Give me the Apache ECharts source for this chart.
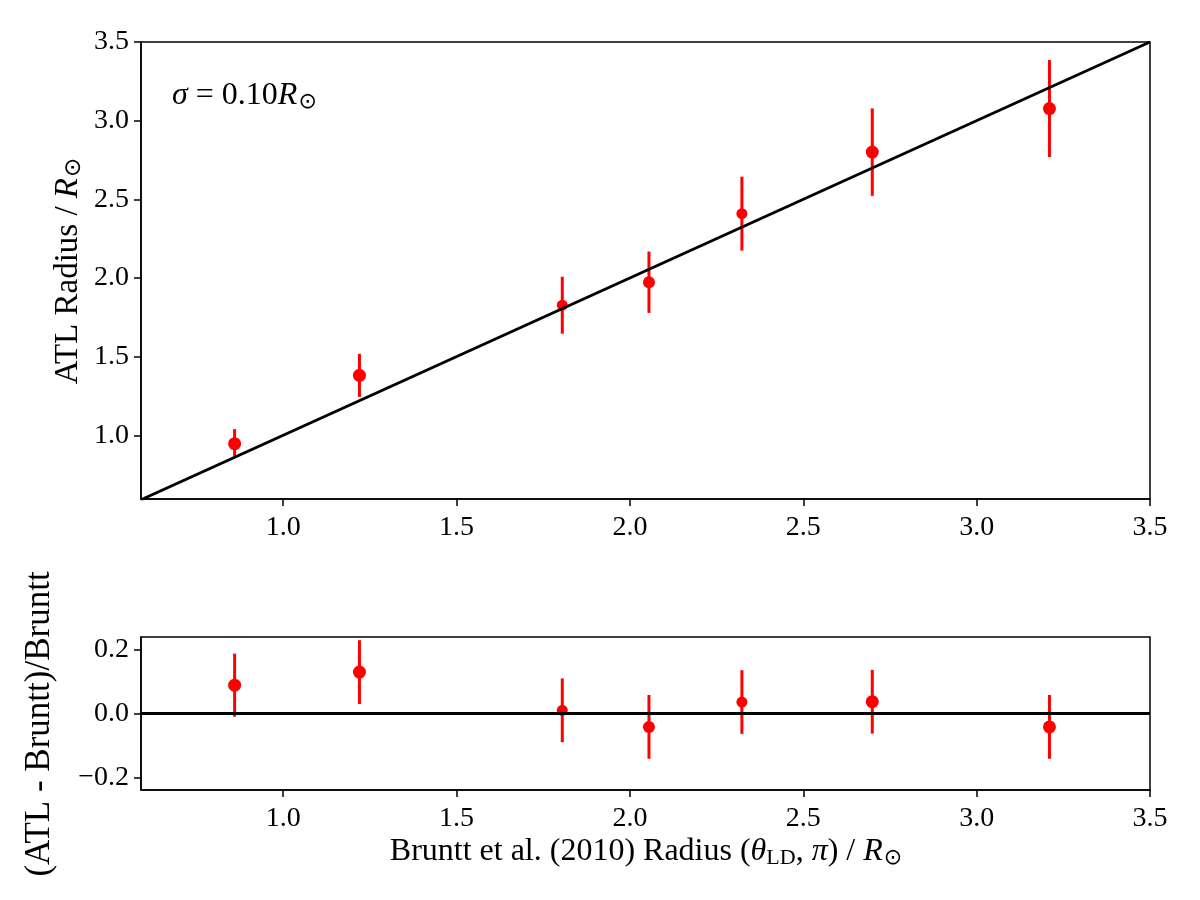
<!DOCTYPE html>
<html><head><meta charset="utf-8">
<script src="https://cdn.jsdelivr.net/npm/echarts@6/dist/echarts.min.js"></script>
<style>html,body{margin:0;padding:0;background:#fff}#c{width:1200px;height:900px}</style>
</head><body><div id="c"></div>
<script>
// ---- data ----
const brunttRadius = [0.860, 1.220, 1.805, 2.055, 2.323, 2.699, 3.210];
const atlRadius    = [0.947, 1.381, 1.827, 1.973, 2.409, 2.800, 3.077];
const atlErr       = [0.092, 0.137, 0.181, 0.195, 0.235, 0.278, 0.308];
const fracDiff     = [0.089, 0.130, 0.010, -0.042, 0.036, 0.037, -0.042];
const fracErr      = [0.099, 0.100, 0.100, 0.100, 0.100, 0.100, 0.100];
const markerSize   = [13, 13, 11, 12, 11, 13, 13];
const xTicks    = [1.0, 1.5, 2.0, 2.5, 3.0, 3.5];
const yTopTicks = [1.0, 1.5, 2.0, 2.5, 3.0, 3.5];
const yBotTicks = [-0.2, 0.0, 0.2];
const xRange    = [0.59, 3.5];
const yTopRange = [0.595, 3.5];
const yBotRange = [-0.24, 0.24];
const zeroLine  = [0.0];

const FONT = 'Liberation Serif';
const FS = 28;
const RED = '#ff0000';
const fmt = v => (Math.abs(v) < 1e-9 ? 0 : v).toFixed(1).replace('-', '\u2212');

function xAxisDef(gi) {
  return {
    type: 'value', gridIndex: gi, min: xRange[0], max: xRange[1],
    axisLine: {show: true, onZero: false, lineStyle: {color: '#000', width: 1.5}},
    axisTick: {show: true, length: 7, lineStyle: {color: '#000', width: 1.5}, customValues: xTicks},
    axisLabel: {show: true, customValues: xTicks, formatter: fmt, margin: 15,
      fontFamily: FONT, fontSize: FS, color: '#000', hideOverlap: false},
    splitLine: {show: false}
  };
}
function yAxisDef(gi, range, ticks) {
  return {
    type: 'value', gridIndex: gi, min: range[0], max: range[1],
    axisLine: {show: true, onZero: false, lineStyle: {color: '#000', width: 1.5}},
    axisTick: {show: true, length: 7, lineStyle: {color: '#000', width: 1.5}, customValues: ticks},
    axisLabel: {show: true, customValues: ticks, formatter: fmt, margin: 12,
      fontFamily: FONT, fontSize: FS, color: '#000', hideOverlap: false},
    splitLine: {show: false}
  };
}
function errSeries(gi, xs, ys, es) {
  return {
    type: 'custom', xAxisIndex: gi, yAxisIndex: gi, z: 3,
    data: xs.map((x, i) => [x, ys[i] - es[i], ys[i] + es[i]]),
    encode: {x: 0, y: [1, 2]},
    renderItem: (params, api) => {
      const a = api.coord([api.value(0), api.value(1)]);
      const b = api.coord([api.value(0), api.value(2)]);
      return {type: 'line', shape: {x1: a[0], y1: a[1], x2: b[0], y2: b[1]},
        style: {stroke: RED, lineWidth: 3}};
    },
    silent: true
  };
}
function ptSeries(gi, xs, ys) {
  return {
    type: 'scatter', xAxisIndex: gi, yAxisIndex: gi, z: 4,
    data: xs.map((x, i) => [x, ys[i]]),
    symbol: 'circle',
    symbolSize: (v, p) => markerSize[p.dataIndex],
    itemStyle: {color: RED, opacity: 1},
    silent: true
  };
}
function richSet(fs) {
  return {
    i: {fontFamily: FONT, fontStyle: 'italic', fontSize: fs, fill: '#000'},
    n: {fontFamily: FONT, fontSize: fs, fill: '#000'},
    s: {fontFamily: 'DejaVu Sans', fontSize: Math.round(fs * 0.7), padding: [Math.round(fs * 0.4), 0, 0, 1], fill: '#000'},
    l: {fontFamily: FONT, fontSize: Math.round(fs * 0.68), padding: [Math.round(fs * 0.36), 0, 0, 0], fill: '#000'}
  };
}

const chart = echarts.init(document.getElementById('c'), null, {renderer: 'canvas'});
chart.setOption({
  animation: false,
  backgroundColor: '#fff',
  grid: [
    {left: 141, top: 42, width: 1009, height: 457, show: true, borderColor: '#000', borderWidth: 1.5, outerBoundsMode: 'none', containLabel: false},
    {left: 141, top: 637, width: 1009, height: 153, show: true, borderColor: '#000', borderWidth: 1.5, outerBoundsMode: 'none', containLabel: false}
  ],
  xAxis: [xAxisDef(0), xAxisDef(1)],
  yAxis: [yAxisDef(0, yTopRange, yTopTicks), yAxisDef(1, yBotRange, yBotTicks)],
  series: [
    errSeries(0, brunttRadius, atlRadius, atlErr),
    ptSeries(0, brunttRadius, atlRadius),
    {type: 'line', xAxisIndex: 0, yAxisIndex: 0, z: 5, data: xRange.map(v => [v, v]),
      symbol: 'none', lineStyle: {color: '#000', width: 2.8}, silent: true},
    errSeries(1, brunttRadius, fracDiff, fracErr),
    ptSeries(1, brunttRadius, fracDiff),
    {type: 'line', xAxisIndex: 1, yAxisIndex: 1, z: 5, data: xRange.map(v => [v, zeroLine[0]]),
      symbol: 'none', lineStyle: {color: '#000', width: 2.8}, silent: true}
  ],
  graphic: [
    {type: 'text', x: 172, y: 96, silent: true, style: {
      text: '{i|σ}{n| = 0.10}{i|R}{s|⊙}', align: 'left', verticalAlign: 'middle',
      rich: richSet(32)}},
    {type: 'text', x: 68, y: 271, rotation: Math.PI / 2, silent: true, style: {
      text: '{n|ATL Radius / }{i|R}{s|⊙}', align: 'center', verticalAlign: 'middle',
      rich: richSet(33)}},
    {type: 'text', x: 40, y: 724, rotation: Math.PI / 2, silent: true, style: {
      text: '(ATL - Bruntt)/Bruntt', align: 'center', verticalAlign: 'middle',
      fontFamily: FONT, fontSize: 35, fill: '#000'}},
    {type: 'text', x: 646, y: 852, silent: true, style: {
      text: '{n|Bruntt et al. (2010) Radius (}{i|θ}{l|LD}{n|, }{i|π}{n|) / }{i|R}{s|⊙}',
      align: 'center', verticalAlign: 'middle',
      rich: richSet(32)}}
  ]
});
</script></body></html>
